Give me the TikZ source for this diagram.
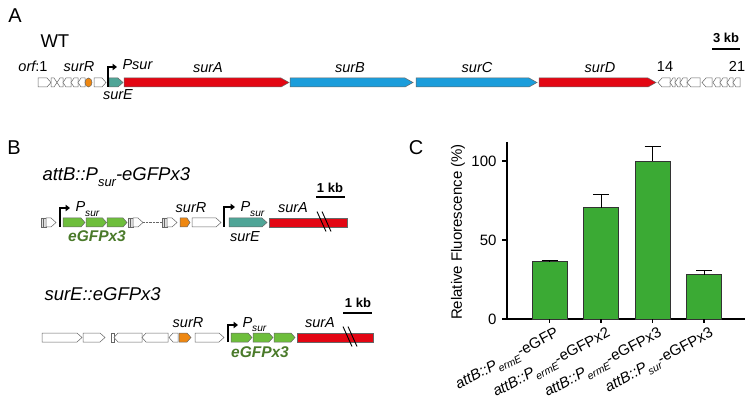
\documentclass[tikz,border=0pt]{standalone}
\usepackage{amsmath}
\usepackage{fontspec}
\setmainfont{Liberation Sans}
\usetikzlibrary{arrows.meta}
\definecolor{GeneRed}{HTML}{E30613}
\definecolor{GeneBlue}{HTML}{1B9DDB}
\definecolor{GeneTeal}{HTML}{4FA597}
\definecolor{GeneOrange}{HTML}{EE8711}
\definecolor{GfpGreen}{HTML}{6EBE3C}
\definecolor{GfpDark}{HTML}{4A7A2A}
\definecolor{BarGreen}{HTML}{3BAA34}
% gene arrows: [tip]{from}{to}{row}{fill}
\newcommand{\fgene}[5][4]{\draw[gene,fill=#5] (#2,#4-4.5) -- (#3-#1,#4-4.5) -- (#3,#4) -- (#3-#1,#4+4.5) -- (#2,#4+4.5) -- cycle;}
\newcommand{\rgene}[5][4]{\draw[gene,fill=#5] (#2,#4) -- (#2+#1,#4-4.5) -- (#3,#4-4.5) -- (#3,#4+4.5) -- (#2+#1,#4+4.5) -- cycle;}
\newcommand{\attsite}[2]{\draw[gene,fill=black!12] (#1,#2-4.5) rectangle (#1+2.5,#2+4.5) (#1+2.5,#2-4.5) rectangle (#1+5,#2+4.5);
  \fgene[5]{#1+5}{#1+15}{#2}{white}}
\newcommand{\prom}[4]{\draw[prom] (#1,#2) |- (#3,#4);}
\newcommand{\brk}[2]{\draw[line width=0.9pt] (#1,#2-11) -- (#1+9,#2+9) (#1+5,#2-11) -- (#1+14,#2+9);}
\newcommand{\gsub}[1]{\raisebox{-0.6ex}{$\scriptstyle\text{\itshape #1}$}}

\begin{document}
\begin{tikzpicture}[x=1pt,y=-1pt,
  gene/.style={draw=black!60,line width=0.5pt},
  panel/.style={font=\fontsize{20}{22}\selectfont,anchor=base},
  title/.style={font=\fontsize{18.5}{20}\selectfont\itshape,anchor=base west},
  lbl/.style={font=\fontsize{14.5}{16}\selectfont\itshape,anchor=base},
  num/.style={font=\fontsize{14.5}{16}\selectfont,anchor=base},
  kb/.style={font=\fontsize{13}{14}\selectfont\bfseries,anchor=base},
  gfp/.style={font=\fontsize{15.5}{17}\selectfont\bfseries\itshape,text=GfpDark,anchor=base},
  tick/.style={font=\fontsize{15}{17}\selectfont},
  prom/.style={line width=2pt,-{Triangle[length=4.5pt,width=6.5pt]}},
  axis/.style={line width=1.1pt},
  bar/.style={draw=black!80,line width=0.8pt,fill=BarGreen}]
\useasboundingbox (0,0) rectangle (754,411);

% ---- A: wild type cluster
\node[panel] (pA) at (15,23) {A};
\node[font=\fontsize{18.5}{20}\selectfont,anchor=base west] (wt) at (37,48) {WT};
\fgene{38}{51}{82.5}{white}
\fgene[3]{51}{57}{82.5}{white}
\rgene[3]{57}{63}{82.5}{white}
\rgene[3]{63}{71}{82.5}{white}
\rgene[3]{71}{78}{82.5}{white}
\rgene[3]{78}{85}{82.5}{white}
\draw[gene,fill=GeneOrange] (88.5,82.5) ellipse (3.5 and 4.5);
\fgene{94}{106}{82.5}{white}
\fgene[5]{109}{123}{82.5}{GeneTeal}
\fgene[8]{124}{289}{82.5}{GeneRed}
\fgene[8]{290}{413}{82.5}{GeneBlue}
\fgene[8]{416}{537}{82.5}{GeneBlue}
\fgene[8]{539}{656}{82.5}{GeneRed}
\rgene{658}{670}{82.5}{white}
\rgene[3]{670}{675}{82.5}{white}
\rgene[3]{675}{680}{82.5}{white}
\rgene[3]{680}{687}{82.5}{white}
\rgene{687}{700}{82.5}{white}
\rgene{702}{712}{82.5}{white}
\rgene[3]{713}{720}{82.5}{white}
\rgene[3]{720}{727}{82.5}{white}
\rgene[3]{727}{733}{82.5}{white}
\rgene[3]{733}{740}{82.5}{white}
\prom{107.5}{87}{117}{67}
\node[lbl] (orf) at (33,72) {orf\upshape :1};
\node[lbl] (surRa) at (79,72) {surR};
\node[lbl,anchor=base west] (psura) at (119,70) {Psur};
\node[lbl] (surEa) at (118,100) {surE};
\node[lbl] (surAa) at (208,73) {surA};
\node[lbl] (surBa) at (350,73) {surB};
\node[lbl] (surCa) at (477,73) {surC};
\node[lbl] (surDa) at (600,73) {surD};
\node[num] (o14) at (665,72) {14};
\node[num] (o21) at (737,72) {21};
\node[kb] (kbA) at (726,43) {3 kb};
\draw[line width=1.2pt] (712,49) -- (740,49);

% ---- B: reporter constructs
\node[panel] (pB) at (14,155) {B};
\node[title] (attB) at (39,181) {attB::P\gsub{sur}-eGFPx3};
\attsite{41}{222.5}
\prom{60}{227}{70}{208}
\fgene{63}{85}{222.5}{GfpGreen}
\fgene{86}{106.5}{222.5}{GfpGreen}
\fgene{107}{127}{222.5}{GfpGreen}
\attsite{128}{222.5}
\draw[black!60,densely dotted] (143,222.5) -- (162,222.5);
\attsite{162}{222.5}
\fgene[3]{180}{190}{222.5}{GeneOrange}
\fgene[5]{192}{221}{222.5}{white}
\prom{224}{227}{235}{207}
\fgene[5]{229}{267}{222.5}{GeneTeal}
\draw[gene,fill=GeneRed] (269,218) rectangle (347,227);
\brk{317}{222.5}
\node[lbl,anchor=base west] (psurb1) at (72,212) {P\gsub{sur}};
\node[gfp] (gfpb1) at (97,242) {eGFPx3};
\node[lbl] (surRb1) at (191,213) {surR};
\node[lbl,anchor=base west] (psurb2) at (237,212) {P\gsub{sur}};
\node[lbl] (surEb1) at (245,242) {surE};
\node[lbl] (surAb1) at (293,213) {surA};
\node[kb] (kbB1) at (330,193) {1 kb};
\draw[line width=1.2pt] (316,197) -- (345,197);

\node[title] (surEgfp) at (41,300) {surE::eGFPx3};
\fgene[5]{42}{82}{337.5}{white}
\fgene[5]{83}{105}{337.5}{white}
\draw[gene,fill=white] (111,333) rectangle (114,342);
\rgene{114}{142}{337.5}{white}
\rgene{142}{168}{337.5}{white}
\rgene{169}{178}{337.5}{white}
\fgene{179}{191}{337.5}{GeneOrange}
\fgene[5]{195}{224}{337.5}{white}
\prom{228}{342}{238}{325}
\fgene{231}{252}{337.5}{GfpGreen}
\fgene{253}{273}{337.5}{GfpGreen}
\fgene{274}{295}{337.5}{GfpGreen}
\draw[gene,fill=GeneRed] (297,333) rectangle (373,342);
\brk{343}{337.5}
\node[lbl] (surRb2) at (188,327) {surR};
\node[lbl,anchor=base west] (psurb3) at (239,327) {P\gsub{sur}};
\node[gfp] (gfpb2) at (260,357) {eGFPx3};
\node[lbl] (surAb2) at (320,327) {surA};
\node[kb] (kbB2) at (358,307) {1 kb};
\draw[line width=1.2pt] (343,313) -- (372,313);

% ---- C: fluorescence
\node[panel] (pC) at (416,155) {C};
\draw[axis] (507,142) -- (507,319) -- (745,319);
\foreach \t in {0,50,100}{
  \draw[axis] (502,319-1.58*\t) -- (507,319-1.58*\t);
  \node[tick,anchor=east] (t\t) at (500,319-1.58*\t) {\t};
}
\node[tick,rotate=90] (ylab) at (458,232) {Relative Fluorescence (\%)};
\foreach \i/\v/\e in {1/36.3/37.2,2/70.5/79,3/100/109.5,4/28/31}{
  \pgfmathsetmacro\xc{498+51.5*\i}
  \draw[bar] (\xc-17.5,319) rectangle (\xc+17.5,319-1.58*\v);
  \draw[line width=0.9pt] (\xc,319-1.58*\v) -- (\xc,319-1.58*\e) (\xc-8,319-1.58*\e) -- (\xc+8,319-1.58*\e);
  \draw[axis] (\xc,319) -- (\xc,323);
}
\foreach \i/\txt in {1/\gsub{ermE}-eGFP,2/\gsub{ermE}-eGFPx2,3/\gsub{ermE}-eGFPx3,4/\gsub{sur}-eGFPx3}{
  \node[tick,anchor=north east,rotate=28,inner sep=1pt] (xl\i) at (503.5+51.5*\i,325) {\textit{attB::P}\txt};
}
\end{tikzpicture}
\end{document}
